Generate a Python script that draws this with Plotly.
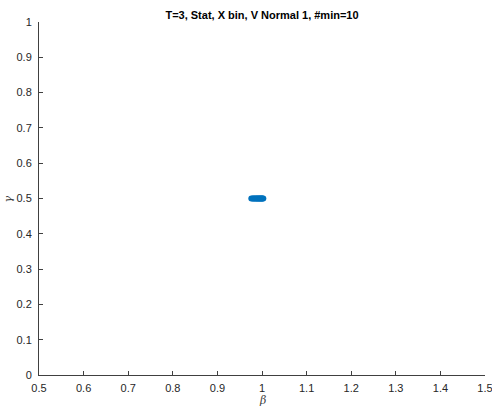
import plotly.graph_objects as go

beta = [0.976, 0.979, 0.981, 0.983, 0.985, 0.987, 0.989, 0.990, 0.992, 0.994,
        0.995, 0.997, 0.998, 1.000, 1.001, 1.003]
gamma = [0.5, 0.5, 0.5, 0.5, 0.5, 0.5, 0.5, 0.5, 0.5, 0.5,
         0.5, 0.5, 0.5, 0.5, 0.5, 0.5]
x_ticks = [0.5, 0.6, 0.7, 0.8, 0.9, 1, 1.1, 1.2, 1.3, 1.4, 1.5]
x_labels = ["0.5", "0.6", "0.7", "0.8", "0.9", "1", "1.1", "1.2", "1.3", "1.4", "1.5"]
y_ticks = [0, 0.1, 0.2, 0.3, 0.4, 0.5, 0.6, 0.7, 0.8, 0.9, 1]
y_labels = ["0", "0.1", "0.2", "0.3", "0.4", "0.5", "0.6", "0.7", "0.8", "0.9", "1"]

fig = go.Figure()
fig.add_trace(go.Scatter(
    x=beta, y=gamma, mode="markers",
    marker=dict(color="#0072BD", size=6, line=dict(width=0)),
    showlegend=False,
))

FONT = "Liberation Sans, Arial, sans-serif"
axis_common = dict(
    showgrid=False, zeroline=False, showline=True, linecolor="#404040", linewidth=1,
    ticks="inside", ticklen=4, tickcolor="#404040", automargin=False,
    ticklabeloverflow="allow",
    tickfont=dict(family=FONT, size=11, color="#262626"),
)
fig.update_layout(
    width=492, height=410,
    margin=dict(l=39, r=7, t=22, b=35, autoexpand=False),
    paper_bgcolor="white", plot_bgcolor="white",
    title=dict(text="<b>T=3, Stat, X bin, V Normal 1, #min=10</b>",
               x=0.5, xref="paper", xanchor="center", y=1 - 15 / 410, yref="container",
               yanchor="middle",
               font=dict(family=FONT, size=11, color="black")),
    xaxis=dict(range=[0.5, 1.5], tickvals=x_ticks, ticktext=x_labels,
               ticklabelstandoff=3, **axis_common),
    yaxis=dict(range=[0, 1], tickvals=y_ticks, ticktext=y_labels,
               ticklabelstandoff=4, **axis_common),
    annotations=[
        dict(text="<i>β</i>", x=0.5, xref="paper", y=-25 / 353, yref="paper", showarrow=False,
             xanchor="center", yanchor="middle",
             font=dict(family="DejaVu Serif, serif", size=11, color="#404040")),
        dict(text="<i>γ</i>", x=-31 / 446, xref="paper", y=0.5, yref="paper", showarrow=False,
             xanchor="center", yanchor="middle", textangle=-90,
             font=dict(family="DejaVu Serif, serif", size=11, color="#404040")),
    ],
)
fig.write_html("out.html", config={"displayModeBar": False},
               post_script="document.body.style.margin='0';")
